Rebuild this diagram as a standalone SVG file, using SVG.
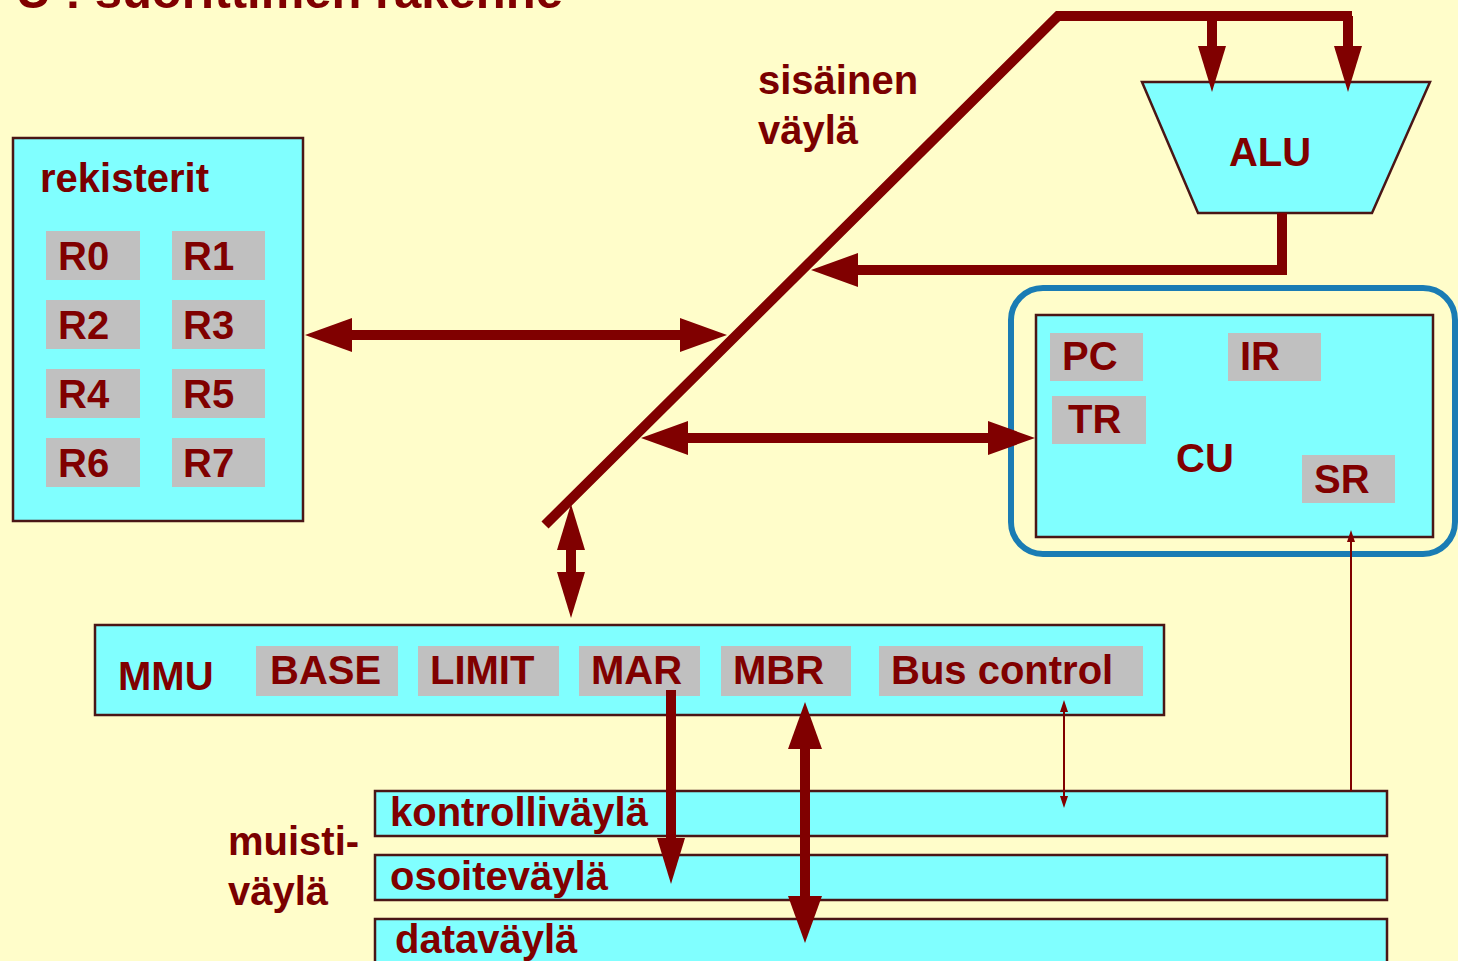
<svg xmlns="http://www.w3.org/2000/svg" width="1458" height="961" viewBox="0 0 1458 961">
  <style>
    .bg { fill: #FFFDCA; }
    .box { fill: #80FFFF; stroke: #4a1616; stroke-width: 2.5; }
    .reg { fill: #C0C0C0; }
    .t { font-family: "Liberation Sans", Arial, sans-serif; font-weight: bold; font-size: 40px; fill: #800000; }
    .lbl { font-family: "Liberation Sans", Arial, sans-serif; font-weight: bold; font-size: 40px; fill: #7a0000; }
    .title { font-size: 49px; }
    .bus { fill: none; stroke: #800000; stroke-width: 10; stroke-linejoin: miter; }
    .thin { fill: none; stroke: #800000; stroke-width: 2; }
  </style>
  <defs>
    <marker id="head" markerUnits="userSpaceOnUse" markerWidth="50" markerHeight="40" refX="0" refY="17" orient="auto-start-reverse" viewBox="0 0 50 34">
      <path d="M0,0 L47,17 L0,34 Z" fill="#800000"/>
    </marker>
    <marker id="headN" markerUnits="userSpaceOnUse" markerWidth="50" markerHeight="32" refX="0" refY="14" orient="auto-start-reverse" viewBox="0 0 50 28">
      <path d="M0,0 L46,14 L0,28 Z" fill="#800000"/>
    </marker>
    <marker id="tip" markerUnits="userSpaceOnUse" markerWidth="14" markerHeight="10" refX="0" refY="4" orient="auto-start-reverse" viewBox="0 0 14 8">
      <path d="M0,0 L12,4 L0,8 Z" fill="#800000"/>
    </marker>
  </defs>

  <rect class="bg" x="0" y="0" width="1458" height="961"/>

  <!-- title, running off the top edge -->
  <text class="t title" x="563" y="8" text-anchor="end">CPU : suorittimen rakenne</text>

  <!-- register file -->
  <g id="registers">
    <rect class="box" x="13" y="138" width="290" height="383"/>
    <text class="lbl" x="40" y="192">rekisterit</text>
    <rect class="reg" x="46" y="231" width="94" height="49"/>
    <rect class="reg" x="172" y="231" width="93" height="49"/>
    <rect class="reg" x="46" y="300" width="94" height="49"/>
    <rect class="reg" x="172" y="300" width="93" height="49"/>
    <rect class="reg" x="46" y="369" width="94" height="49"/>
    <rect class="reg" x="172" y="369" width="93" height="49"/>
    <rect class="reg" x="46" y="438" width="94" height="49"/>
    <rect class="reg" x="172" y="438" width="93" height="49"/>
    <text class="t" x="58" y="270">R0</text>
    <text class="t" x="183" y="270">R1</text>
    <text class="t" x="58" y="339">R2</text>
    <text class="t" x="183" y="339">R3</text>
    <text class="t" x="58" y="408">R4</text>
    <text class="t" x="183" y="408">R5</text>
    <text class="t" x="58" y="477">R6</text>
    <text class="t" x="183" y="477">R7</text>
  </g>

  <!-- arithmetic logic unit -->
  <g id="alu">
    <polygon class="box" points="1142,82 1430,82 1372,213 1198,213"/>
    <text class="t" x="1270" y="166" text-anchor="middle">ALU</text>
  </g>

  <!-- control unit -->
  <g id="cu">
    <rect x="1011" y="288" width="444" height="266" rx="32" fill="none" stroke="#1a7cb4" stroke-width="6"/>
    <rect class="box" x="1036" y="315" width="397" height="222"/>
    <rect class="reg" x="1050" y="333" width="93" height="48"/>
    <rect class="reg" x="1228" y="333" width="93" height="48"/>
    <rect class="reg" x="1052" y="396" width="94" height="48"/>
    <rect class="reg" x="1302" y="455" width="93" height="48"/>
    <text class="t" x="1062" y="370">PC</text>
    <text class="t" x="1240" y="370">IR</text>
    <text class="t" x="1068" y="433">TR</text>
    <text class="t" x="1314" y="493">SR</text>
    <text class="t" x="1176" y="472">CU</text>
  </g>

  <!-- memory management unit -->
  <g id="mmu">
    <rect class="box" x="95" y="625" width="1069" height="90"/>
    <text class="t" x="118" y="690">MMU</text>
    <rect class="reg" x="256" y="646" width="142" height="50"/>
    <rect class="reg" x="418" y="646" width="141" height="50"/>
    <rect class="reg" x="579" y="646" width="121" height="50"/>
    <rect class="reg" x="721" y="646" width="130" height="50"/>
    <rect class="reg" x="879" y="646" width="264" height="50"/>
    <text class="t" x="270" y="684">BASE</text>
    <text class="t" x="430" y="684">LIMIT</text>
    <text class="t" x="591" y="684">MAR</text>
    <text class="t" x="733" y="684">MBR</text>
    <text class="t" x="891" y="684">Bus control</text>
  </g>

  <!-- memory bus lanes -->
  <g id="memory-bus">
    <rect class="box" x="375" y="791" width="1012" height="45"/>
    <rect class="box" x="375" y="855" width="1012" height="45"/>
    <rect class="box" x="375" y="919" width="1012" height="50"/>
    <text class="t" x="390" y="826">kontrolliväylä</text>
    <text class="t" x="390" y="890">osoiteväylä</text>
    <text class="t" x="395" y="953">dataväylä</text>
    <text class="lbl" x="228" y="855">muisti-</text>
    <text class="lbl" x="228" y="905">väylä</text>
  </g>

  <!-- internal bus label -->
  <g id="internal-bus-label">
    <text class="lbl" x="758" y="94">sisäinen</text>
    <text class="lbl" x="758" y="144">väylä</text>
  </g>

  <!-- connectors -->
  <g id="connectors">
    <!-- internal bus trunk -->
    <path class="bus" d="M545,525 L1058,16 L1352,16" stroke-width="9"/>
    <path class="bus" d="M1212,16 V46" stroke-width="8" marker-end="url(#headN)"/>
    <path class="bus" d="M1348,16 V46" stroke-width="8" marker-end="url(#headN)"/>
    <!-- ALU result back onto the bus -->
    <path class="bus" d="M1282,213 V270 H858" marker-end="url(#head)"/>
    <!-- registers <-> bus -->
    <path class="bus" d="M352,335 H680" marker-start="url(#head)" marker-end="url(#head)"/>
    <!-- bus <-> control unit -->
    <path class="bus" d="M688,438 H988" marker-start="url(#head)" marker-end="url(#head)"/>
    <!-- bus <-> MMU -->
    <path class="bus" d="M571,550 V572" marker-start="url(#headN)" marker-end="url(#headN)"/>
    <!-- MAR -> address bus -->
    <path class="bus" d="M671,690 V838" stroke-width="8" marker-end="url(#headN)"/>
    <!-- MBR <-> data bus -->
    <path class="bus" d="M805,749 V896" stroke-width="8" marker-start="url(#head)" marker-end="url(#head)"/>
    <!-- bus control <-> control bus -->
    <path class="thin" d="M1064,712 V796" marker-start="url(#tip)" marker-end="url(#tip)"/>
    <!-- control bus -> SR -->
    <path class="thin" d="M1351,791 V542" marker-end="url(#tip)"/>
  </g>
</svg>
